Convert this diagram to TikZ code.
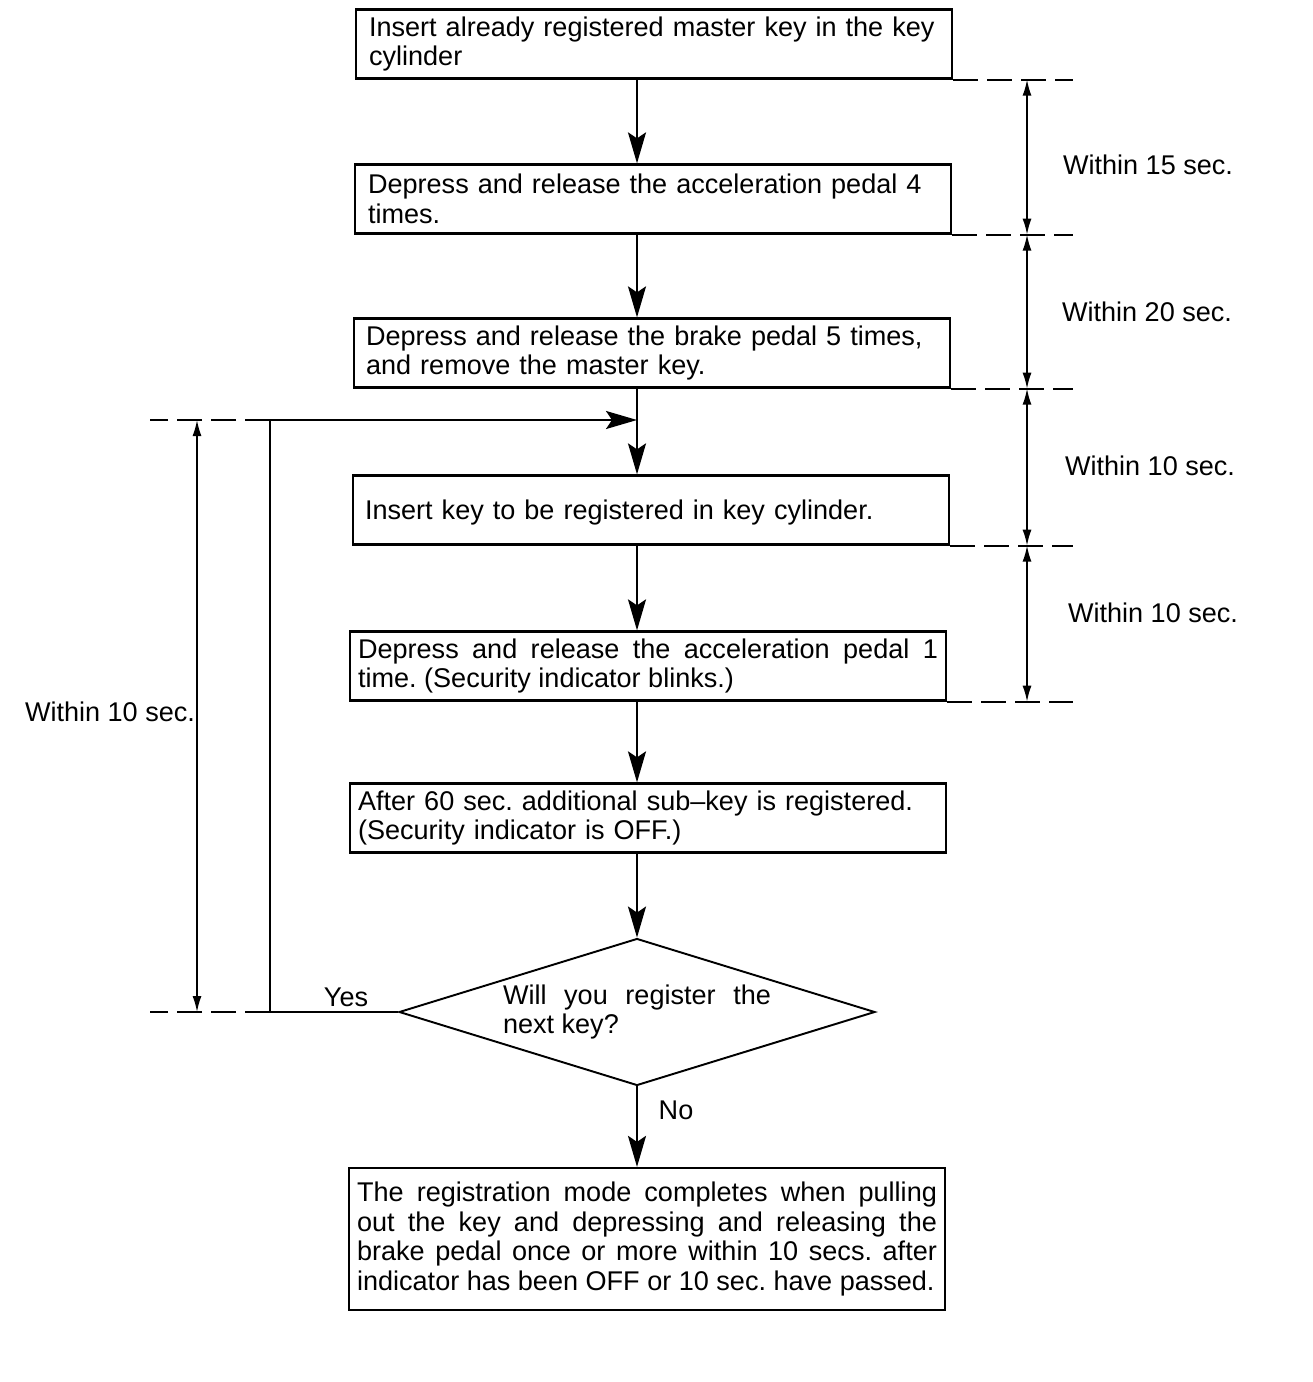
\documentclass[tikz,border=0pt]{standalone}
\usepackage{fontspec}
\setmainfont{Liberation Sans}
\usetikzlibrary{shapes.geometric,arrows.meta}
\frenchspacing
\begin{document}
\begin{tikzpicture}[x=0.02cm, y=-0.02cm, line width=1.3pt,
  every node/.style={font=\fontsize{15.4}{17}\selectfont},
  box node/.style={rectangle,draw,minimum width=11.92cm,minimum height=1.38cm,text width=11.6cm,inner xsep=0.16cm,align=left},
  ask node/.style={diamond,draw,line width=1.1pt,aspect=3.24,minimum width=9.52cm,minimum height=2.94cm,inner sep=0pt,text width=5.36cm,align=justify},
  flow/.style={-{Stealth[length=0.62cm,width=0.36cm,inset=0.12cm]}},
  dim/.style={{Latex[length=0.32cm,width=0.18cm]}-{Latex[length=0.32cm,width=0.18cm]},line width=0.9pt},
  ext/.style={dash pattern=on 0.5cm off 0.18cm,line width=1pt}]
\useasboundingbox (0,0) rectangle (1312,1382);
% steps
\node [box node](b1) at (654,44) {\hspace*{0.1cm}Insert already registered master key in the key\\\hspace*{0.1cm}cylinder};
\node [box node](b2) at (653,199) {\hspace*{0.1cm}Depress and release the acceleration pedal 4\\\hspace*{0.1cm}times.};
\node [box node](b3) at (652,353) {\hspace*{0.08cm}Depress and release the brake pedal 5 times,\\\hspace*{0.08cm}and remove the master key.};
\node [box node,text depth=-0.1cm](b4) at (651,510) {\hspace*{0.08cm}Insert key to be registered in key cylinder.};
\node [box node,align=justify](b5) at (648,666) {Depress and release the acceleration pedal 1\linebreak time. (Security indicator blinks.)};
\node [box node](b6) at (648,818) {After 60 sec. additional sub--key is registered.\\(Security indicator is OFF.)};
\node [ask node](ask) at (637,1012) {Will you register the\linebreak next key?};
\node [box node,align=justify,minimum height=2.84cm](b7) at (647,1239) {The registration mode completes when pulling\linebreak out the key and depressing and releasing the\linebreak brake pedal once or more within 10 secs. after\linebreak indicator has been OFF or 10 sec. have passed.};
\node (yes) at (346,997) {Yes};
\node (no) at (676,1110) {No};
% times
\node (t1) at (1148,165) {Within 15 sec.};
\node (t2) at (1147,312) {Within 20 sec.};
\node (t3) at (1150,466) {Within 10 sec.};
\node (t4) at (1153,613) {Within 10 sec.};
\node (t5) at (110,712) {Within 10 sec.};
\coordinate (looptop) at (270,420);
\coordinate (loopbot) at (270,1012);
\coordinate (lx) at (150,0);
\coordinate (ldx) at (197,0);
\coordinate (rx) at (1073,0);
\coordinate (rdx) at (1027,0);
\path
    (b1.south -| ask) edge [flow] (b2.north -| ask)
    (b2.south -| ask) edge [flow] (b3.north -| ask)
    (b3.south -| ask) edge [flow] (b4.north -| ask)
    (b4.south -| ask) edge [flow] (b5.north -| ask)
    (b5.south -| ask) edge [flow] (b6.north -| ask)
    (b6.south -| ask) edge [flow] (ask.north)
    (ask.south) edge [flow] (b7.north -| ask)
    ;
% loop back
\draw (ask.west) -- (loopbot) -- (looptop);
\draw [flow] (looptop) -- (looptop -| ask);
% extension lines
\foreach \b in {b1,b2,b3,b4,b5}
  \draw [ext] (\b.south east) -- (\b.south east -| rx);
\draw [ext] (looptop) -- (looptop -| lx);
\draw [ext] (loopbot) -- (loopbot -| lx);
% dimension arrows
\draw [dim] (b1.south east -| rdx) -- (b2.south east -| rdx);
\draw [dim] (b2.south east -| rdx) -- (b3.south east -| rdx);
\draw [dim] (b3.south east -| rdx) -- (b4.south east -| rdx);
\draw [dim] (b4.south east -| rdx) -- (b5.south east -| rdx);
\draw [dim] (looptop -| ldx) -- (loopbot -| ldx);
\end{tikzpicture}
\end{document}
